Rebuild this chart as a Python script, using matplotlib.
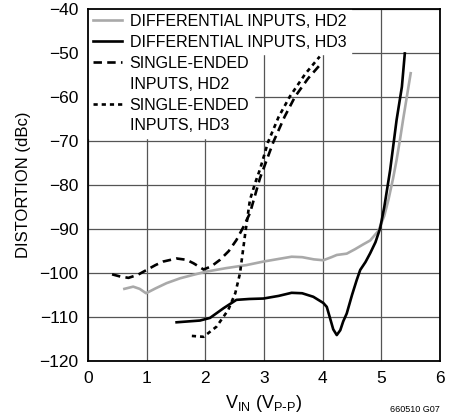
import matplotlib
matplotlib.use('Agg')
import matplotlib.pyplot as plt
from matplotlib.lines import Line2D

# differential inputs, HD2 (gray)
diff_hd2_x = [0.62, 0.77, 0.88, 0.99, 1.15, 1.34, 1.57, 1.80, 2.01, 2.35, 2.70, 2.99, 3.25,
              3.47, 3.65, 3.85, 4.01, 4.15, 4.24, 4.41, 4.55, 4.69, 4.81, 4.95, 5.05, 5.12,
              5.20, 5.26, 5.32, 5.37, 5.44, 5.50]
diff_hd2_y = [-103.6, -103.1, -103.6, -104.6, -103.5, -102.3, -101.2, -100.4, -99.7, -98.9,
              -98.2, -97.4, -96.8, -96.3, -96.4, -96.9, -97.1, -96.4, -95.9, -95.6, -94.6,
              -93.5, -92.6, -90.4, -87.0, -83.4, -78.5, -74.3, -69.5, -65.2, -59.5, -54.6]

# differential inputs, HD3 (black)
diff_hd3_x = [1.51, 1.91, 2.08, 2.31, 2.53, 2.75, 2.99, 3.25, 3.47, 3.65, 3.84, 4.01, 4.07,
              4.12, 4.18, 4.24, 4.30, 4.35, 4.41, 4.50, 4.58, 4.64, 4.73, 4.81, 4.90, 4.98,
              5.05, 5.15, 5.26, 5.35, 5.40]
diff_hd3_y = [-111.2, -110.8, -110.2, -108.0, -106.1, -105.9, -105.8, -105.2, -104.5, -104.6,
              -105.4, -106.8, -107.7, -110.0, -112.8, -114.1, -113.0, -111.0, -109.2, -105.0,
              -101.6, -99.3, -97.5, -95.5, -93.0, -89.8, -85.0, -76.6, -65.2, -57.7, -50.1]

# single-ended inputs, HD2 (dashed)
se_hd2_x = [0.41, 0.55, 0.69, 0.85, 1.00, 1.15, 1.28, 1.51, 1.68, 1.80, 1.97, 2.10, 2.25,
            2.40, 2.53, 2.65, 2.76, 2.93, 3.16, 3.35, 3.53, 3.75, 3.98]
se_hd2_y = [-100.3, -100.8, -101.1, -100.4, -99.3, -98.2, -97.4, -96.7, -97.0, -97.8, -99.2,
            -98.5, -97.0, -95.0, -92.5, -89.5, -86.4, -78.5, -70.2, -64.5, -59.9, -55.8, -52.3]

# single-ended inputs, HD3 (dotted)
se_hd3_x = [1.77, 1.97, 2.19, 2.39, 2.51, 2.59, 2.68, 2.76, 2.85, 2.93, 3.07, 3.25, 3.44,
            3.70, 3.95]
se_hd3_y = [-114.3, -114.5, -112.2, -108.4, -104.6, -100.1, -91.0, -83.4, -79.5, -76.5,
            -70.2, -64.5, -59.9, -54.8, -50.8]

x_ticks = [0, 1, 2, 3, 4, 5, 6]
y_ticks = [-120, -110, -100, -90, -80, -70, -60, -50, -40]

GRAY = '#a9a9a9'
FONT = ['Liberation Sans', 'DejaVu Sans']

plt.rcParams.update({
    'font.family': FONT,
    'font.size': 12,
    'mathtext.default': 'regular',
})

fig = plt.figure(figsize=(4.62, 4.19), dpi=100, facecolor='white')
ax = fig.add_axes([0.1905, 0.1384, 0.7619, 0.8401])
ax.set_axisbelow(True)

lw = 1.9
ax.plot(diff_hd2_x, diff_hd2_y, color=GRAY, lw=lw, zorder=3)
ax.plot(diff_hd3_x, diff_hd3_y, color='black', lw=lw, zorder=4)
ax.plot(se_hd2_x, se_hd2_y, color='black', lw=lw, dashes=(3.2, 2.0), zorder=4)
ax.plot(se_hd3_x, se_hd3_y, color='black', lw=lw, dashes=(1.6, 1.5), zorder=4)

ax.set_xlim(0, 6)
ax.set_ylim(-120, -40)
ax.set_xticks(x_ticks)
ax.set_yticks(y_ticks)
ax.set_yticklabels([f'\u2212{abs(v)}' for v in y_ticks])
ax.tick_params(length=0, pad=7, labelsize=12.5)
ax.grid(True, color='#555555', lw=0.9)
for sp in ax.spines.values():
    sp.set_linewidth(1.3)

ax.set_ylabel('DISTORTION (dBc)', fontsize=12, labelpad=6)
ax.set_xlabel(r'V$_{IN}$ (V$_{P\text{-}P}$)', fontsize=13, labelpad=5)

fig.text(0.952, 0.012, '660510 G07', fontsize=6.5, ha='right', va='bottom')

# legend in two blocks so the white backing steps in like the original
blank = Line2D([], [], linestyle='none')
h1 = [Line2D([], [], color=GRAY, lw=lw), Line2D([], [], color='black', lw=lw)]
l1 = ['DIFFERENTIAL INPUTS, HD2', 'DIFFERENTIAL INPUTS, HD3']
h2 = [Line2D([], [], color='black', lw=lw, dashes=(3.2, 2.0)), blank,
      Line2D([], [], color='black', lw=lw, dashes=(1.6, 1.5)), blank]
l2 = ['SINGLE-ENDED', 'INPUTS, HD2', 'SINGLE-ENDED', 'INPUTS, HD3']

common = dict(frameon=True, fancybox=False, framealpha=1.0, edgecolor='white',
              facecolor='white', fontsize=11.5, handlelength=1.8, handletextpad=0.5,
              borderaxespad=0.0, borderpad=0.3, labelspacing=0.36)
leg1 = ax.legend(h1, l1, loc='upper left', bbox_to_anchor=(0.0, 1.0), **common)
leg1.set_zorder(1)
ax.add_artist(leg1)
leg2 = ax.legend(h2, l2, loc='upper left', bbox_to_anchor=(0.0, 0.88), **common)
leg2.set_zorder(1)

fig.savefig('out.png', dpi=100, facecolor='white')
